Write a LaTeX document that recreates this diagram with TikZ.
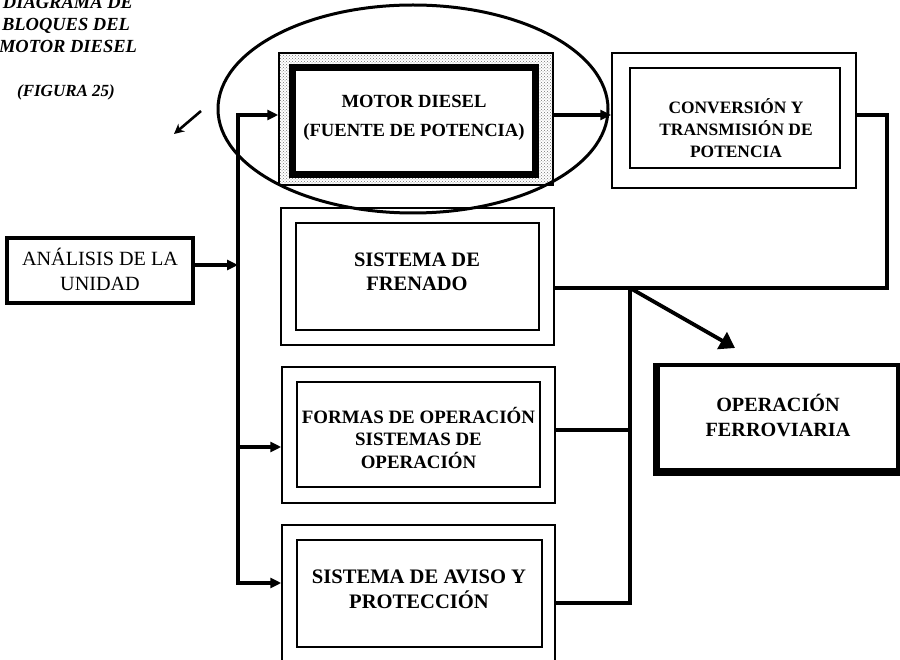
\documentclass[tikz,border=0pt]{standalone}
\usepackage{fontspec}
\setmainfont{Liberation Serif}
\usetikzlibrary{arrows.meta,patterns,shapes.geometric}

\tikzset{
  conn/.style={line width=3.8pt, line join=miter},
  tip/.tip={Triangle[length=11pt,width=10pt]},
  arr/.style={conn, -tip},
  frame/.style={draw, line width=1.5pt, inner sep=0pt, fill=white},
  panel/.style={draw, line width=2pt, inner sep=0pt, fill=white},
  heavy/.style={draw, line width=4.5pt, inner sep=0pt, fill=white},
  caption/.style={font=\bfseries\itshape\fontsize{18.5}{22}\selectfont},
  blocktext/.style={align=center, inner sep=0pt},
}

\begin{document}
\begin{tikzpicture}[x=1pt,y=-1pt]
\clip (0,0) rectangle (900,660);
\useasboundingbox (0,0) rectangle (900,660);

% heading
\node[caption, anchor=base] (t1) at (68,9) {DIAGRAMA DE};
\node[caption, anchor=base] (t2) at (66,31) {BLOQUES DEL};
\node[caption, anchor=base] (t3) at (68,53) {MOTOR DIESEL};
\node[font=\bfseries\itshape\fontsize{17}{20}\selectfont, anchor=base] (t4) at (66,97) {(FIGURA 25)};

% hand-drawn mark
\draw[line width=2.6pt, -{Stealth[length=10pt,width=10pt]}] (201,111) -- (174,134);

% diesel engine: speckled frame with heavy inner border
\node[draw, line width=1.5pt, inner sep=0pt, pattern=crosshatch dots, pattern color=black!55,
      minimum width=274pt, minimum height=132pt] (motorO) at (416,119) {};
\node[draw, line width=7pt, fill=white, inner sep=0pt,
      minimum width=243pt, minimum height=107pt] (motor) at (413.5,121.5) {};
\node[blocktext, font=\bfseries\fontsize{18.6}{29}\selectfont] (motorT) at (414,117.5)
      {MOTOR DIESEL\\(FUENTE DE POTENCIA)};

% conversion and transmission
\node[frame, minimum width=244pt, minimum height=135pt] (convO) at (734,120.5) {};
\node[panel, minimum width=210pt, minimum height=100pt] (conv) at (735,118) {};
\node[blocktext, font=\bfseries\fontsize{17.4}{22}\selectfont] (convT) at (736,128.5)
      {CONVERSIÓN Y\\TRANSMISIÓN DE\\POTENCIA};

% braking system
\node[frame, minimum width=273pt, minimum height=137pt] (frenO) at (417.5,276.5) {};
\node[panel, minimum width=243pt, minimum height=107pt] (fren) at (417.5,276.5) {};
\node[blocktext, font=\bfseries\fontsize{20.5}{24}\selectfont] (frenT) at (417,272)
      {SISTEMA DE\\FRENADO};

% operating modes
\node[frame, minimum width=273pt, minimum height=136pt] (formO) at (418.5,435) {};
\node[panel, minimum width=243pt, minimum height=105pt] (form) at (418.5,434.5) {};
\node[blocktext, font=\bfseries\fontsize{18.9}{22.5}\selectfont] (formT) at (418.5,437.5)
      {FORMAS DE OPERACIÓN\\SISTEMAS DE\\OPERACIÓN};

% warning and protection
\node[frame, minimum width=273pt, minimum height=144pt] (avisoO) at (418.5,597) {};
\node[panel, minimum width=245pt, minimum height=107pt] (aviso) at (419.5,593.5) {};
\node[blocktext, font=\bfseries\fontsize{20.6}{25}\selectfont] (avisoT) at (419,589.5)
      {SISTEMA DE AVISO Y\\PROTECCIÓN};

% unit analysis
\node[heavy, minimum width=186pt, minimum height=65pt] (ana) at (100,270.5) {};
\node[blocktext, font=\fontsize{20.2}{25}\selectfont] (anaT) at (100,269.5)
      {ANÁLISIS DE LA\\UNIDAD};

% railway operation
\node[draw, line width=4pt, inner sep=0pt, fill=white,
      minimum width=240pt, minimum height=105pt] (oper) at (778,417.5) {};
\draw[line width=7pt] (oper.north west) -- (oper.south west) -- (oper.south east);
\node[blocktext, font=\bfseries\fontsize{20.2}{25}\selectfont] (operT) at (778,415.5)
      {OPERACIÓN\\FERROVIARIA};

% ring around the engine block
\node[draw, ellipse, line width=3pt, inner sep=0pt,
      minimum width=390pt, minimum height=208pt] (ring) at (413,109) {};

% distribution bus
\coordinate (busTop) at (238,115);
\coordinate (busBot) at (238,583);
\coordinate (busA) at (238,265);
\coordinate (busF) at (238,447);
\draw[conn, tip-tip]
      (motorO.west |- busTop) -- (busTop) -- (busBot) -- (avisoO.west |- busBot);
\draw[arr] (ana.east |- busA) -- (busA);
\draw[arr] (busF) -- (formO.west |- busF);
\draw[arr] (motorO.east |- busTop) -- (convO.west |- busTop);

% collector on the right
\coordinate (cR) at (887,115);
\coordinate (cD) at (887,288);
\coordinate (jn) at (630,288);
\coordinate (jf) at (630,430);
\coordinate (jb) at (630,603);
\coordinate (opTip) at (735,348);
\draw[conn] (convO.east |- cR) -- (cR) -- (cD) -- (frenO.east |- cD);
\draw[conn] (jn) -- (jb) -- (avisoO.east |- jb);
\draw[conn] (formO.east |- jf) -- (jf);
\draw[conn, -{Triangle[length=15pt,width=19pt]}] (jn) -- (opTip);
\end{tikzpicture}
\end{document}
